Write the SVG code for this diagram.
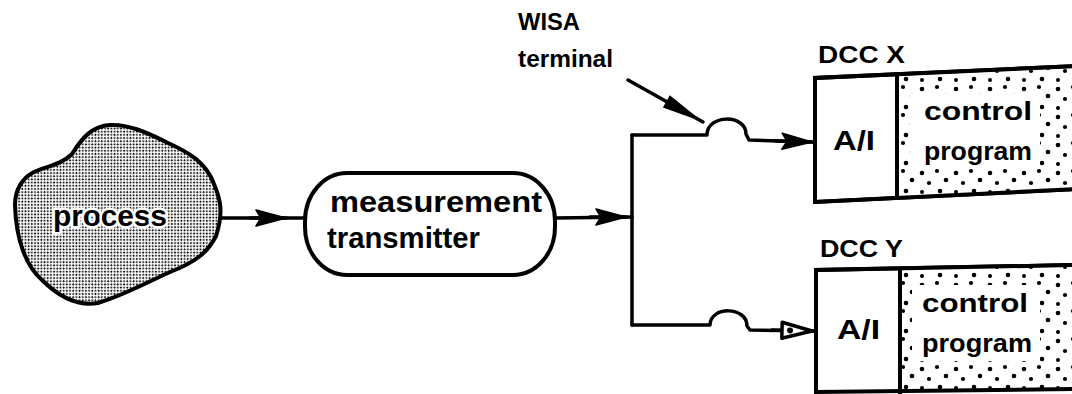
<svg xmlns="http://www.w3.org/2000/svg" width="1072" height="394" viewBox="0 0 1072 394">
  <defs>
    <pattern id="halftone" width="4.5" height="4.5" patternUnits="userSpaceOnUse" patternTransform="rotate(45)">
      <rect width="4.5" height="4.5" fill="#fff"/>
      <rect x="0" y="0" width="1.7" height="1.7" fill="#000"/>
      <rect x="2.25" y="2.25" width="1.7" height="1.7" fill="#000"/>
    </pattern>
    <pattern id="stipple" width="34" height="28" patternUnits="userSpaceOnUse">
      <rect width="34" height="28" fill="#fff"/>
      <circle cx="4" cy="5" r="2.3" fill="#000"/>
      <circle cx="19" cy="3" r="2.1" fill="#000"/>
      <circle cx="28" cy="12" r="2.3" fill="#000"/>
      <circle cx="11" cy="15" r="2.1" fill="#000"/>
      <circle cx="22" cy="23" r="2.3" fill="#000"/>
      <circle cx="4" cy="24" r="2" fill="#000"/>
    </pattern>
    <marker id="arrow" markerUnits="userSpaceOnUse" markerWidth="34" markerHeight="22" refX="32" refY="11" orient="auto">
      <path d="M2,3 L32,11 L2,19 L7,11 z" fill="#000" stroke="#000" stroke-width="1.5" stroke-linejoin="round"/>
    </marker>
    <marker id="arrowOpen" markerUnits="userSpaceOnUse" markerWidth="38" markerHeight="24" refX="35" refY="12" orient="auto">
      <path d="M4,4 L34,12 L4,20 z" fill="#fff" stroke="#000" stroke-width="3.5" stroke-linejoin="round"/>
      <circle cx="12" cy="12" r="3" fill="#000"/>
    </marker>
    <marker id="pointer" markerUnits="userSpaceOnUse" markerWidth="46" markerHeight="24" refX="44" refY="12" orient="auto">
      <path d="M2,5 L44,12 L2,19 z" fill="#000"/>
    </marker>
  </defs>
  <style>
    .ln { fill: none; stroke: #000; stroke-width: 3.5; stroke-linejoin: round; stroke-linecap: round; }
    .box { fill: #fff; stroke: #000; stroke-width: 4; stroke-linejoin: miter; }
    .edge { fill: none; stroke: #000; stroke-width: 4; }
    .t { font-family: "Liberation Sans", Arial, sans-serif; font-weight: bold; fill: #000; }
  </style>
  <rect width="1072" height="394" fill="#fff"/>

  <g id="process">
    <path d="M15,205 C15,190 22,178 34,172 C48,166 62,164 72,154 C82,138 92,126 110,125 C128,124 146,132 168,143 C188,152 206,162 214,184 C220,198 224,212 216,236 C208,252 196,262 170,272 C148,282 122,296 98,303 C80,306 62,300 42,280 C26,266 16,240 15,205 Z" fill="url(#halftone)" stroke="#000" stroke-width="4"/>
    <text class="t" x="110" y="226" font-size="30" text-anchor="middle" stroke="#fff" stroke-width="5" paint-order="stroke" textLength="114">process</text>
  </g>

  <g id="transmitter">
    <rect x="305" y="173" width="250" height="102" rx="42" ry="48" class="box"/>
    <text class="t" x="330" y="212" font-size="30" textLength="212" lengthAdjust="spacingAndGlyphs">measurement</text>
    <text class="t" x="327" y="248" font-size="30" textLength="153" lengthAdjust="spacingAndGlyphs">transmitter</text>
  </g>

  <g id="wisa-label">
    <text class="t" x="518" y="30" font-size="23" textLength="62" lengthAdjust="spacingAndGlyphs">WISA</text>
    <text class="t" x="518" y="67" font-size="23" textLength="95" lengthAdjust="spacingAndGlyphs">terminal</text>
  </g>

  <g id="dcc-x">
    <text class="t" x="818" y="63" font-size="24" textLength="87" lengthAdjust="spacingAndGlyphs">DCC X</text>
    <path d="M1076,66 L815,78 L815,202 L1076,189 Z" class="box"/>
    <path d="M897,76 L1076,68 L1076,189 L897,198 Z" fill="url(#stipple)"/>
    <rect x="910" y="94" width="130" height="74" fill="#fff"/>
    <path d="M1076,66 L815,78 L815,202 L1076,189" class="edge"/>
    <line x1="897" y1="76" x2="897" y2="199" stroke="#000" stroke-width="4"/>
    <text class="t" x="833" y="150" font-size="27" textLength="42" lengthAdjust="spacingAndGlyphs">A/I</text>
    <text class="t" x="924" y="120" font-size="26" textLength="108" lengthAdjust="spacingAndGlyphs">control</text>
    <text class="t" x="924" y="160" font-size="26" textLength="108" lengthAdjust="spacingAndGlyphs">program</text>
  </g>

  <g id="dcc-y">
    <text class="t" x="820" y="257" font-size="24" textLength="83" lengthAdjust="spacingAndGlyphs">DCC Y</text>
    <path d="M1076,265 L816,270 L816,396 L1076,396 Z" class="box"/>
    <path d="M900,268 L1076,266 L1076,390 L900,392 Z" fill="url(#stipple)"/>
    <rect x="912" y="285" width="128" height="76" fill="#fff"/>
    <path d="M1076,265 L816,270 L816,396" class="edge"/>
    <line x1="816" y1="392" x2="1076" y2="389" stroke="#000" stroke-width="4"/>
    <line x1="900" y1="268" x2="900" y2="394" stroke="#000" stroke-width="4"/>
    <text class="t" x="837" y="339" font-size="27" textLength="43" lengthAdjust="spacingAndGlyphs">A/I</text>
    <text class="t" x="922" y="312" font-size="26" textLength="106" lengthAdjust="spacingAndGlyphs">control</text>
    <text class="t" x="922" y="352" font-size="26" textLength="110" lengthAdjust="spacingAndGlyphs">program</text>
  </g>

  <g id="connectors">
    <path class="ln" d="M222,218 L305,218"/>
    <path class="ln" d="M250,218 L286,218" marker-end="url(#arrow)"/>
    <path class="ln" d="M555,218 L632,217"/>
    <path class="ln" d="M590,217 L626,217" marker-end="url(#arrow)"/>
    <path class="ln" d="M632,135 L632,325"/>
    <path class="ln" d="M632,135 L707,135 C707,114 746,114 746,134 L749,140 L813,142"/>
    <path class="ln" d="M776,141 L812,142" marker-end="url(#arrow)"/>
    <path class="ln" d="M632,325 L710,325 C710,306 747,306 747,326 L750,330 L815,331"/>
    <path class="ln" d="M772,330 L813,331" marker-end="url(#arrowOpen)"/>
    <path class="ln" d="M628,80 L703,122" marker-end="url(#pointer)"/>
  </g>
</svg>
